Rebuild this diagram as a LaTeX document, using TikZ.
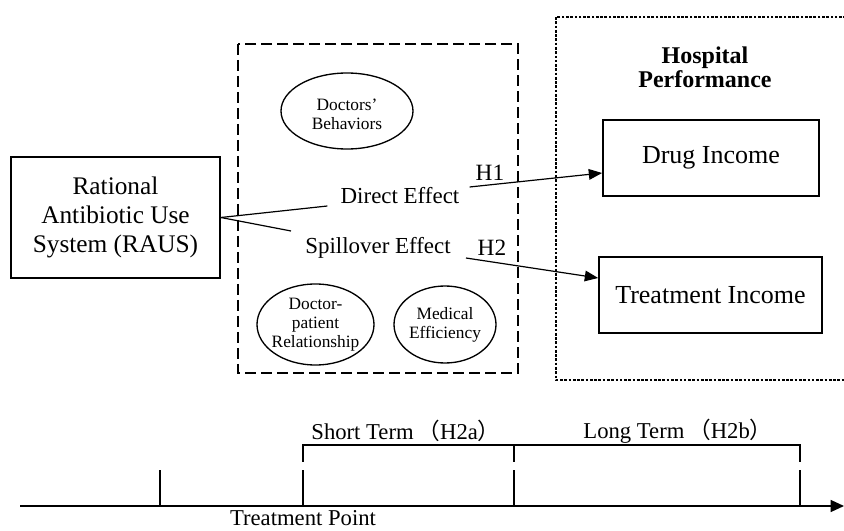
\documentclass[tikz,border=0pt]{standalone}
\usepackage{fontspec}
\setmainfont{Liberation Serif}
\newfontfamily\cjk{Noto Sans CJK SC}
\usetikzlibrary{shapes.geometric,arrows.meta,calc}
\begin{document}
\begin{tikzpicture}[x=0.75pt,y=-0.75pt,
  box/.style={draw,line width=1.3pt,inner sep=0pt,align=center},
  oval/.style={draw,ellipse,line width=1pt,inner sep=0pt},
  ovaltext/.style={align=center,inner sep=0pt,font=\fontsize{13}{14.3}\selectfont},
  lbl/.style={inner sep=0pt,align=center},
  conn/.style={line width=0.9pt},
  arr/.style={line width=0.9pt,-{Triangle[length=10pt,width=8pt]}},
  tick/.style={line width=0.8pt}]
\useasboundingbox (0,0) rectangle (844,531);
% frames
\draw[line width=1.4pt,dash pattern=on 8pt off 4pt] (238,44) rectangle (518,373);
\draw[line width=1.1pt,dash pattern=on 2pt off 1.2pt] (846,17) -- (556,17) -- (556,380) -- (846,380);
% nodes
\node[box,minimum width=209*0.75pt,minimum height=121*0.75pt,font=\fontsize{19}{21.8}\selectfont] (raus) at (115.5,217.5) {Rational\\Antibiotic Use\\System (RAUS)};
\node[box,minimum width=216*0.75pt,minimum height=76*0.75pt,font=\fontsize{19.5}{22}\selectfont] (drug) at (711,158) {Drug Income};
\node[box,minimum width=223*0.75pt,minimum height=76*0.75pt,font=\fontsize{19.5}{22}\selectfont] (treat) at (710.5,295) {Treatment Income};
\node[lbl,font=\bfseries\fontsize{18}{18}\selectfont] (hp) at (705,67) {Hospital\\Performance};
\node[oval,minimum width=132*0.75pt,minimum height=76*0.75pt] (db) at (347,111) {};
\node[ovaltext] at (347,114) {Doctors’\\Behaviors};
\node[oval,minimum width=117*0.75pt,minimum height=81*0.75pt] (dp) at (315.5,324.5) {};
\node[ovaltext] at (315.5,324.5) {Doctor-\\patient\\Relationship};
\node[oval,minimum width=102*0.75pt,minimum height=77*0.75pt] (me) at (445,324.5) {};
\node[ovaltext] at (445,324.5) {Medical\\Efficiency};
\node[lbl,font=\fontsize{17.2}{20}\selectfont] (direct) at (400,196) {Direct Effect};
\node[lbl,font=\fontsize{17.2}{20}\selectfont] (spill) at (378,248) {Spillover Effect};
\node[lbl,font=\fontsize{17.5}{20}\selectfont] (h1) at (490,173) {H1};
\node[lbl,font=\fontsize{17.5}{20}\selectfont] (h2) at (492,248) {H2};
% connectors
\draw[conn] (raus.east) -- ($(direct.west)+(-13,10)$);
\draw[conn] (raus.east) -- ($(spill.west)+(-14,-17)$);
\draw[arr] ($(direct.east)+(10,-9)$) -- ($(drug.west)+(0,15)$);
\draw[arr] ($(spill.east)+(15,10)$) -- ($(treat.west)+(0,-17)$);
% timeline
\coordinate (a0) at (20,506);
\coordinate (a1) at (844,506);
\coordinate (t1) at (160,506);
\coordinate (t2) at (303,506);
\coordinate (t3) at (514,506);
\coordinate (t4) at (800,506);
\draw[line width=1pt,-{Triangle[length=10pt,width=9pt]}] (a0) -- (a1);
\foreach \t in {t1,t2,t3,t4} \draw[tick] (\t) -- ++(0,-36);
\draw[tick] ($(t2)+(0,-44)$) -- ($(t2)+(0,-61)$) -- ($(t4)+(0,-61)$) -- ($(t4)+(0,-44)$);
\draw[tick] ($(t3)+(0,-44)$) -- ($(t3)+(0,-61)$);
\node[lbl,font=\fontsize{17}{20}\selectfont] (st) at (406,431) {Short Term\,{\cjk （}H2a{\cjk ）}};
\node[lbl,font=\fontsize{17}{20}\selectfont] (lt) at (678,431) {Long Term\,{\cjk （}H2b{\cjk ）}};
\node[lbl,font=\fontsize{17}{20}\selectfont] (tp) at (303,518) {Treatment Point};
\end{tikzpicture}
\end{document}
